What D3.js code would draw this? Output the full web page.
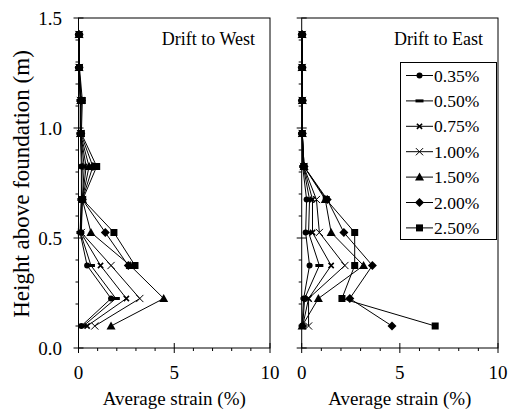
<!DOCTYPE html>
<html>
<head>
<meta charset="utf-8">
<script src="https://cdn.jsdelivr.net/npm/d3@7"></script>
<style>
  body { margin: 0; background: #fff; }
  svg { display: block; }
  text { font-family: "Liberation Serif", "Times New Roman", serif; fill: #000; }
</style>
</head>
<body>
<div id="chart"></div>
<script>
// heights of the gauge levels (m)
var heights = [1.425, 1.275, 1.125, 0.975, 0.825, 0.675, 0.525, 0.375, 0.225, 0.1];

var driftLevels = ["0.35%", "0.50%", "0.75%", "1.00%", "1.50%", "2.00%", "2.50%"];
var markerTypes = ["circle", "dash", "xsmall", "xlarge", "triangle", "diamond", "square"];

// average strain (%) per drift level, drift to West
var west035 = [0.03, 0.03, 0.10, 0.10, 0.15, 0.15, 0.08, 0.45, 1.70, 0.15];
var west050 = [0.03, 0.03, 0.10, 0.10, 0.20, 0.15, 0.10, 0.65, 1.95, 0.25];
var west075 = [0.03, 0.03, 0.10, 0.10, 0.30, 0.20, 0.12, 1.15, 2.50, 0.45];
var west100 = [0.03, 0.03, 0.10, 0.10, 0.40, 0.20, 0.15, 1.70, 3.20, 0.85];
var west150 = [0.03, 0.03, 0.12, 0.10, 0.55, 0.20, 0.65, 2.70, 4.45, 1.70];
var west200 = [0.03, 0.03, 0.15, 0.12, 0.75, 0.20, 1.40, 2.60, null, null];
var west250 = [0.03, 0.05, 0.20, 0.15, 0.95, 0.22, 1.85, 2.95, null, null];

// drift to East
var east035 = [0.02, 0.02, 0.03, 0.02, 0.05, 0.25, 0.20, 0.40, 0.10, 0.02];
var east050 = [0.02, 0.02, 0.03, 0.02, 0.08, 0.40, 0.35, 0.90, 0.15, 0.05];
var east075 = [0.02, 0.02, 0.03, 0.03, 0.10, 0.55, 0.55, 1.50, 0.35, 0.05];
var east100 = [0.02, 0.02, 0.03, 0.03, 0.10, 0.75, 0.90, 2.20, 0.35, 0.35];
var east150 = [0.02, 0.02, 0.03, 0.03, 0.12, 1.20, 1.50, 3.15, 0.85, 0.02];
var east200 = [0.02, 0.02, 0.03, 0.03, 0.12, 1.30, 2.15, 3.60, 2.45, 4.60];
var east250 = [0.02, 0.02, 0.03, 0.03, 0.12, 1.25, 2.70, 2.70, 2.05, 6.80];

var westSeries = [west035, west050, west075, west100, west150, west200, west250];
var eastSeries = [east035, east050, east075, east100, east150, east200, east250];

var xTicks = [0, 5, 10];
var yTicks = [0.0, 0.5, 1.0, 1.5];

var width = 509, height = 412;

var svg = d3.select("#chart").append("svg")
    .attr("width", width)
    .attr("height", height);

var y = d3.scaleLinear().domain([0, 1.5]).range([348, 18]);

var panels = [
    {title: "Drift to West", series: westSeries, x: d3.scaleLinear().domain([0, 10]).range([78.5, 270]), yLabels: true},
    {title: "Drift to East", series: eastSeries, x: d3.scaleLinear().domain([0, 10]).range([301.7, 498]), yLabels: false}
];

function drawMarker(g, type, cx, cy) {
    if (type == "circle") {
        g.append("circle").attr("cx", cx).attr("cy", cy).attr("r", 3).style("fill", "#000");
    } else if (type == "dash") {
        g.append("rect").attr("x", cx - 4).attr("y", cy - 1.5).attr("width", 8).attr("height", 3).style("fill", "#000");
    } else if (type == "xsmall" || type == "xlarge") {
        var s = type == "xsmall" ? 2.6 : 3.6;
        g.append("path")
            .attr("d", "M" + (cx - s) + "," + (cy - s) + "L" + (cx + s) + "," + (cy + s) +
                       "M" + (cx - s) + "," + (cy + s) + "L" + (cx + s) + "," + (cy - s))
            .style("stroke", "#000")
            .style("stroke-width", type == "xsmall" ? 1.6 : 1)
            .style("fill", "none");
    } else if (type == "triangle") {
        g.append("path")
            .attr("d", "M" + cx + "," + (cy - 4.5) + "L" + (cx + 4.5) + "," + (cy + 3.5) + "L" + (cx - 4.5) + "," + (cy + 3.5) + "Z")
            .style("fill", "#000");
    } else if (type == "diamond") {
        g.append("path")
            .attr("d", "M" + cx + "," + (cy - 4.5) + "L" + (cx + 4.5) + "," + cy + "L" + cx + "," + (cy + 4.5) + "L" + (cx - 4.5) + "," + cy + "Z")
            .style("fill", "#000");
    } else if (type == "square") {
        g.append("rect").attr("x", cx - 3.5).attr("y", cy - 3.5).attr("width", 7).attr("height", 7).style("fill", "#000");
    }
}

panels.forEach(function(p) {
    var x = p.x;
    var g = svg.append("g");

    // frame
    g.append("rect")
        .attr("x", x(0)).attr("y", y(1.5))
        .attr("width", x(10) - x(0)).attr("height", y(0) - y(1.5))
        .style("fill", "none").style("stroke", "#000").style("stroke-width", 1);

    // x ticks: minor every 1 (outside), major every 5 (crossing)
    d3.range(0, 11).forEach(function(v) {
        var major = v % 5 == 0;
        g.append("line")
            .attr("x1", x(v)).attr("x2", x(v))
            .attr("y1", major ? y(0) - 5 : y(0)).attr("y2", y(0) + (major ? 5 : 3))
            .style("stroke", "#000");
    });
    // y ticks: minor every 0.1, major every 0.5
    d3.range(0, 16).forEach(function(i) {
        var v = i / 10;
        var major = i % 5 == 0;
        g.append("line")
            .attr("x1", x(0) - (major ? 5 : 3)).attr("x2", major ? x(0) + 5 : x(0))
            .attr("y1", y(v)).attr("y2", y(v))
            .style("stroke", "#000");
    });

    g.selectAll(".xlab")
        .data(xTicks)
        .enter().append("text")
        .attr("x", function(d) { return x(d); })
        .attr("y", 379)
        .attr("text-anchor", "middle")
        .style("font-size", "19px")
        .text(function(d) { return d; });

    if (p.yLabels) {
        g.selectAll(".ylab")
            .data(yTicks)
            .enter().append("text")
            .attr("x", 62)
            .attr("y", function(d) { return y(d); })
            .attr("dy", "0.35em")
            .attr("text-anchor", "end")
            .style("font-size", "19px")
            .text(function(d) { return d.toFixed(1); });
    }

    g.append("text")
        .attr("x", (x(0) + x(10)) / 2)
        .attr("y", 405)
        .attr("text-anchor", "middle")
        .style("font-size", "19px")
        .text("Average strain (%)");

    g.append("text")
        .attr("x", x(10) - 15)
        .attr("y", 45)
        .attr("text-anchor", "end")
        .style("font-size", "18px")
        .text(p.title);

    var line = d3.line()
        .defined(function(d) { return d[0] != null; })
        .x(function(d) { return x(d[0]); })
        .y(function(d) { return y(d[1]); });

    p.series.forEach(function(s) {
        var pts = s.map(function(v, i) { return [v, heights[i]]; });
        g.append("path")
            .attr("d", line(pts))
            .style("fill", "none")
            .style("stroke", "#000")
            .style("stroke-width", 1);
    });
    p.series.forEach(function(s, k) {
        s.forEach(function(v, i) {
            if (v != null) drawMarker(g, markerTypes[k], x(v), y(heights[i]));
        });
    });
});

// y axis title
svg.append("text")
    .attr("transform", "translate(29," + 184 + ") rotate(-90)")
    .attr("text-anchor", "middle")
    .style("font-size", "23px")
    .text("Height above foundation (m)");

// legend
var legend = svg.append("g");
legend.append("rect")
    .attr("x", 400.5).attr("y", 62.5)
    .attr("width", 96).attr("height", 177)
    .style("fill", "#fff").style("stroke", "#000").style("stroke-width", 1);

var rows = legend.selectAll(".row")
    .data(driftLevels)
    .enter().append("g")
    .attr("transform", function(d, i) { return "translate(0," + (75.5 + i * 25.4) + ")"; });

rows.append("line")
    .attr("x1", 406).attr("x2", 433)
    .attr("y1", 0).attr("y2", 0)
    .style("stroke", "#000");
rows.each(function(d, i) {
    drawMarker(d3.select(this), markerTypes[i], 419.5, 0);
});
rows.append("text")
    .attr("x", 434)
    .attr("y", 0)
    .attr("dy", "0.35em")
    .style("font-size", "17.5px")
    .text(function(d) { return d; });
</script>
</body>
</html>
